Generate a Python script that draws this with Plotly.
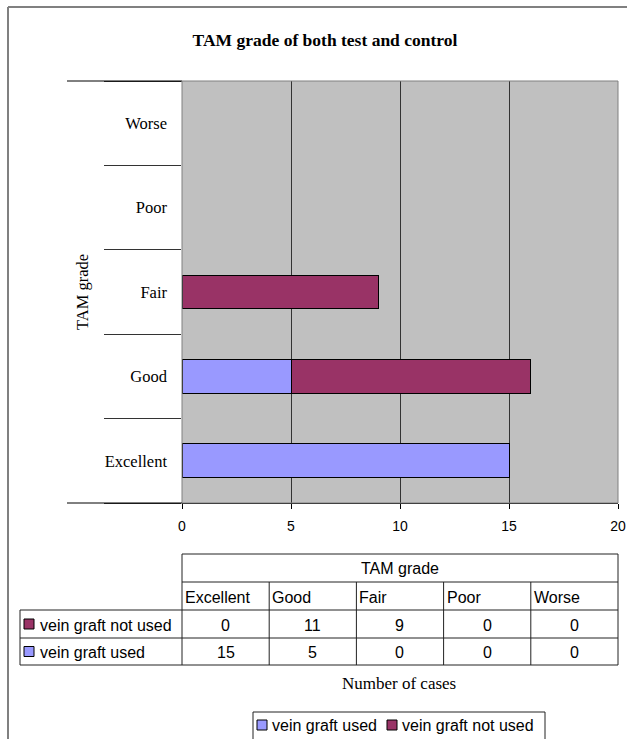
import plotly.graph_objects as go

# ---- data ----
grades = ["Excellent", "Good", "Fair", "Poor", "Worse"]
used = [15, 5, 0, 0, 0]
not_used = [0, 11, 9, 0, 0]
series_names = ["vein graft used", "vein graft not used"]
title_text = "TAM grade of both test and control"
y_title = "TAM grade"
x_title = "Number of cases"
x_ticks = [0, 5, 10, 15, 20]

C_USED = "#9999FF"
C_NOT = "#993366"
W, H = 627, 739
SERIF = "Liberation Serif, Times New Roman, serif"
SANS = "Liberation Sans, Arial, sans-serif"


def px(x):
    return x / W


def py(y):
    return 1 - y / H


def outline(vals):
    # no outline on zero-length bars
    return [1 if v else 0 for v in vals]


fig = go.Figure()
fig.add_trace(go.Bar(y=grades, x=used, name=series_names[0], orientation="h", showlegend=False,
                     marker=dict(color=C_USED, line=dict(color="#000", width=outline(used))), width=0.4))
fig.add_trace(go.Bar(y=grades, x=not_used, name=series_names[1], orientation="h", showlegend=False,
                     marker=dict(color=C_NOT, line=dict(color="#000", width=outline(not_used))), width=0.4))

shapes = []
ann = []

# outer chart frame (top and left edges only; the rest lies outside the view)
shapes.append(dict(type="line", xref="paper", yref="paper", x0=px(8), y0=py(7), x1=1, y1=py(7),
                   line=dict(color="#808080", width=2)))
shapes.append(dict(type="line", xref="paper", yref="paper", x0=px(8), y0=py(7), x1=px(8), y1=0,
                   line=dict(color="#808080", width=2)))
# plot border
shapes.append(dict(type="rect", xref="x domain", yref="y domain", x0=0, y0=0, x1=1, y1=1,
                   line=dict(color="#808080", width=1), layer="above"))
# top/bottom extension lines in category label area
for yy in (81, 503):
    shapes.append(dict(type="line", xref="paper", yref="paper", x0=px(67), x1=px(182), y0=py(yy), y1=py(yy),
                       line=dict(color="#000", width=1)))

# ---- data table ----
t_top, t_h1, t_h2, t_r1, t_bot = 554, 582, 610, 638, 665
lab_left = 20
LC = "#222"


def hline(y, xa, xb):
    shapes.append(dict(type="line", xref="paper", yref="paper", x0=xa, x1=xb, y0=py(y), y1=py(y),
                       line=dict(color=LC, width=1)))


def vline(x, ya, yb, col=LC):
    shapes.append(dict(type="line", xref="paper", yref="paper", x0=x, x1=x, y0=py(ya), y1=py(yb),
                       line=dict(color=col, width=1)))


x0p, x1p = px(182), px(618)
colw = (x1p - x0p) / len(grades)
hline(t_top, x0p, x1p)
hline(t_h1, x0p, x1p)
hline(t_h2, px(lab_left), x1p)
hline(t_r1, px(lab_left), x1p)
hline(t_bot, px(lab_left), x1p)
vline(px(lab_left), t_h2, t_bot)
vline(x0p, t_top, t_bot)
vline(x1p, t_top, t_bot)
for i in range(1, len(grades)):
    vline(x0p + i * colw, t_h1, t_bot)

tfont = dict(family=SANS, size=16, color="#000")
ann.append(dict(text=y_title, xref="paper", yref="paper", x=(x0p + x1p) / 2, y=py((t_top + t_h1) / 2),
                showarrow=False, font=tfont, xanchor="center", yanchor="middle"))
for i, g in enumerate(grades):
    ann.append(dict(text=g, xref="paper", yref="paper", x=x0p + i * colw + px(1), y=py((t_h1 + t_h2) / 2 + 1),
                    showarrow=False, font=tfont, xanchor="left", yanchor="middle"))
rows = [(series_names[1], not_used, C_NOT, t_h2, t_r1), (series_names[0], used, C_USED, t_r1, t_bot)]
for name, vals, col, ya, yb in rows:
    ym = (ya + yb) / 2
    shapes.append(dict(type="rect", xref="paper", yref="paper", x0=px(24), x1=px(34), y0=py(ym + 5), y1=py(ym - 5),
                       fillcolor=col, line=dict(color="#000", width=1)))
    ann.append(dict(text=name, xref="paper", yref="paper", x=px(38), y=py(ym + 1), showarrow=False,
                    font=tfont, xanchor="left", yanchor="middle"))
    for i, v in enumerate(vals):
        ann.append(dict(text=str(v), xref="paper", yref="paper", x=x0p + (i + 0.5) * colw, y=py(ym + 1),
                        showarrow=False, font=tfont, xanchor="center", yanchor="middle"))

# ---- legend (bottom box, cut off by the page edge) ----
hline(712, px(253), px(545))
vline(px(253), 712, H)
vline(px(545), 712, H)
leg_y = 725
leg_items = [(series_names[0], C_USED, 257), (series_names[1], C_NOT, 387)]
for name, col, xs in leg_items:
    shapes.append(dict(type="rect", xref="paper", yref="paper", x0=px(xs), x1=px(xs + 10),
                       y0=py(leg_y + 5), y1=py(leg_y - 5), fillcolor=col, line=dict(color="#000", width=1)))
    ann.append(dict(text=name, xref="paper", yref="paper", x=px(xs + 13), y=py(leg_y), showarrow=False,
                    font=tfont, xanchor="left", yanchor="middle"))

# axis titles
ann.append(dict(text=x_title, xref="paper", yref="paper", x=px(399), y=py(683), showarrow=False,
                font=dict(family=SERIF, size=17, color="#000"), xanchor="center", yanchor="middle"))
ann.append(dict(text=y_title, xref="paper", yref="paper", x=px(82), y=py(292), showarrow=False, textangle=-90,
                font=dict(family=SERIF, size=16.5, color="#000"), xanchor="center", yanchor="middle"))

fig.update_layout(
    width=W, height=H, autosize=False,
    margin=dict(l=0, r=0, t=0, b=0, pad=0, autoexpand=False),
    paper_bgcolor="white", plot_bgcolor="#C0C0C0",
    barmode="stack",
    title=dict(text="<b>" + title_text + "</b>", x=px(325), xanchor="center", y=py(40), yanchor="middle",
               xref="paper", yref="paper", font=dict(family=SERIF, size=17.5, color="#000"), automargin=False),
    xaxis=dict(domain=[px(182), px(618)], range=[0, 20], tickvals=x_ticks, showgrid=True, gridcolor="#333",
               gridwidth=1, zeroline=False, showline=True, linecolor="#000", linewidth=1,
               ticks="outside", ticklen=5, tickcolor="#000", automargin=False, ticklabelstandoff=5,
               tickfont=dict(family=SANS, size=14, color="#000"), fixedrange=True),
    yaxis=dict(domain=[py(503), py(81)], type="category", categoryorder="array", categoryarray=grades,
               tickson="boundaries", ticks="outside", ticklen=77, tickcolor="#333", showgrid=False,
               zeroline=False, showline=False, ticklabelstandoff=14, automargin=False,
               tickfont=dict(family=SERIF, size=16.5, color="#000"), fixedrange=True),
    showlegend=False,
    shapes=shapes, annotations=ann,
)

fig.write_html("out.html")
